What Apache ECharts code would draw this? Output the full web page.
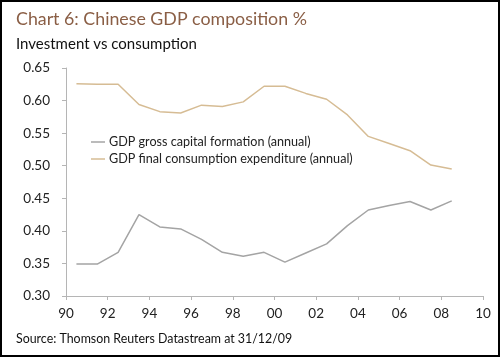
<!DOCTYPE html>
<html>
<head>
<meta charset="utf-8">
<script src="https://cdn.jsdelivr.net/npm/echarts@6/dist/echarts.min.js"></script>
<style>
html,body{margin:0;padding:0;background:#fff;}
#c{width:500px;height:357px;}
</style>
</head>
<body>
<div id="c"></div>
<script>
var years = [1990,1991,1992,1993,1994,1995,1996,1997,1998,1999,2000,2001,2002,2003,2004,2005,2006,2007,2008];
var grossCapital = [0.349,0.349,0.367,0.425,0.406,0.403,0.387,0.367,0.361,0.367,0.352,0.366,0.380,0.408,0.432,0.439,0.445,0.432,0.446];
var finalConsumption = [0.626,0.625,0.625,0.594,0.583,0.581,0.593,0.591,0.598,0.622,0.622,0.611,0.602,0.578,0.545,0.534,0.523,0.501,0.495];
var seriesNames = ['GDP gross capital formation (annual)','GDP final consumption expenditure (annual)'];
var yTicks = [0.30,0.35,0.40,0.45,0.50,0.55,0.60,0.65];

function pts(vals){ return years.map(function(y,i){ return [y+0.5, vals[i]]; }); }

var FONT = 'Lato, sans-serif';
var chart = echarts.init(document.getElementById('c'), null, {renderer:'canvas'});
chart.setOption({
  animation:false,
  backgroundColor:'#fff',
  textStyle:{fontFamily:FONT},
  title:[
    {text:'Chart 6: Chinese GDP composition %', left:11, top:5,
     textStyle:{fontFamily:FONT, fontSize:17.8, fontWeight:'normal', color:'#8a5e45'}},
    {text:'Investment vs consumption', left:11, top:32,
     textStyle:{fontFamily:FONT, fontSize:15, fontWeight:'normal', color:'#111'}},
    {text:'Source: Thomson Reuters Datastream at 31/12/09', left:11, top:328,
     textStyle:{fontFamily:FONT, fontSize:12.4, fontWeight:'normal', color:'#111'}}
  ],
  legend:{
    orient:'vertical', left:86, top:130, itemWidth:14, itemHeight:1.5, itemGap:3,
    icon:'rect',
    textStyle:{fontFamily:FONT, fontSize:12.6, color:'#222', lineHeight:14, padding:[0,0,0,-1]},
    data:seriesNames
  },
  grid:{left:66, right:17, top:68, bottom:61},
  xAxis:{
    type:'value', min:1990, max:2010, interval:2,
    axisLine:{lineStyle:{color:'#b5b5b5', width:1}},
    axisTick:{show:true, length:4, lineStyle:{color:'#b5b5b5'}},
    splitLine:{show:false},
    axisLabel:{margin:11, fontFamily:FONT, fontSize:13.5, color:'#222',
      formatter:function(v){ return String(v).slice(2); }}
  },
  yAxis:{
    type:'value', min:0.30, max:0.65, interval:0.05,
    axisLine:{show:true, lineStyle:{color:'#b5b5b5', width:1}},
    axisTick:{show:true, length:4, lineStyle:{color:'#b5b5b5'}},
    splitLine:{show:false},
    axisLabel:{margin:16, fontFamily:FONT, fontSize:13.5, color:'#222',
      formatter:function(v){ return v.toFixed(2); }}
  },
  series:[
    {name:seriesNames[0], type:'line', data:pts(grossCapital), symbol:'none',
     lineStyle:{color:'#a4a4a4', width:1.5}, itemStyle:{color:'#a4a4a4'}},
    {name:seriesNames[1], type:'line', data:pts(finalConsumption), symbol:'none',
     lineStyle:{color:'#d6bc94', width:1.5}, itemStyle:{color:'#d6bc94'}}
  ],
  graphic:[
    {type:'rect', silent:true, z:100, shape:{x:1, y:1, width:498, height:355},
     style:{fill:'none', stroke:'#000', lineWidth:2}}
  ]
});
</script>
</body>
</html>
